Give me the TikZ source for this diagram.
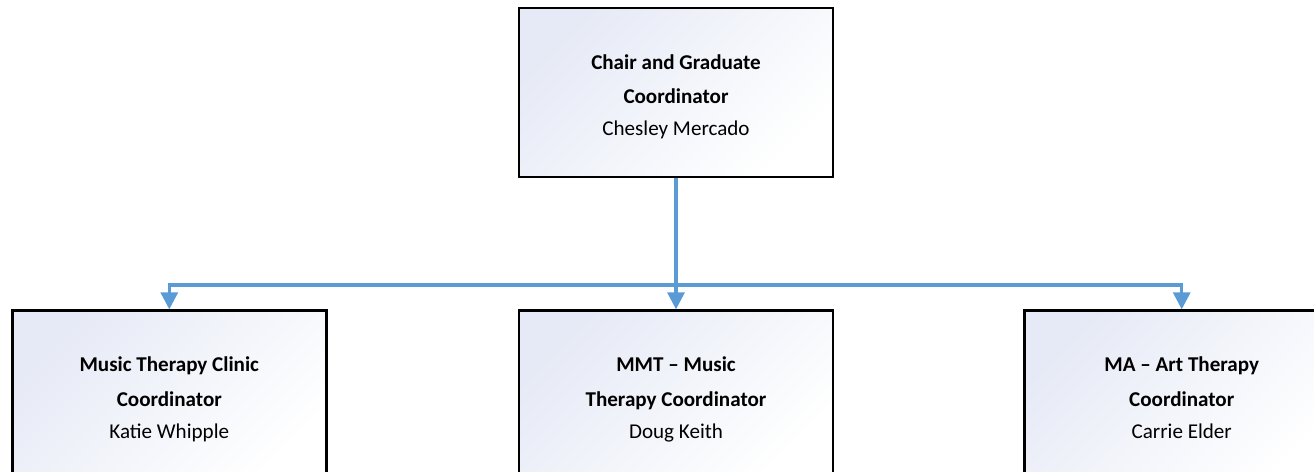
\documentclass[tikz,border=0pt]{standalone}
\usepackage{fontspec}
\setmainfont{Carlito}
\usetikzlibrary{shapes,arrows.meta,positioning}
\definecolor{linkblue}{HTML}{5B9BD5}
\definecolor{boxtint}{HTML}{E6EAF6}
\tikzstyle{role} = [draw,line width=1.6pt,rectangle,minimum width=6.28cm,minimum height=3.38cm,top color=boxtint,bottom color=white,shading angle=45,align=center,font=\fontsize{12}{19.9}\selectfont]
\tikzstyle{link} = [-{Triangle[length=0.34cm,width=0.34cm]},draw=linkblue,line width=1.8pt]
\def \tu {0.02cm}
\def \lift {\rule{0pt}{13.3pt}}

\begin{document}
\begin{tikzpicture}[x=\tu, y=\tu, node distance=2.62cm]
      \clip (0,0) rectangle (1314,-472);
      \useasboundingbox (0,0) rectangle (1314,-472);
      \node[role] at (676,-92.5) (chair) {\lift\textbf{Chair and Graduate}\\\textbf{Coordinator}\\[-1.7pt]Chesley Mercado\vphantom{p}};
      \node[role,below=of chair] (mmt) {\lift\textbf{MMT – Music}\\\textbf{Therapy Coordinator}\\[-1.7pt]Doug Keith\vphantom{p}};
      \node[role,left=3.8cm of mmt] (clinic) {\lift\textbf{Music Therapy Clinic}\\\textbf{Coordinator}\\[-1.7pt]Katie Whipple\vphantom{p}};
      \node[role,right=3.78cm of mmt] (art) {\lift\textbf{MA – Art Therapy}\\\textbf{Coordinator}\\[-1.7pt]Carrie Elder\vphantom{p}};
      \coordinate (bus) at (676,-285);
      \draw[link] (chair.south) -- (mmt.north);
      \draw[link] (chair.south) -- (chair.south |- bus) -| (clinic.north);
      \draw[link] (chair.south) -- (chair.south |- bus) -| (art.north);
    \end{tikzpicture}
\end{document}
